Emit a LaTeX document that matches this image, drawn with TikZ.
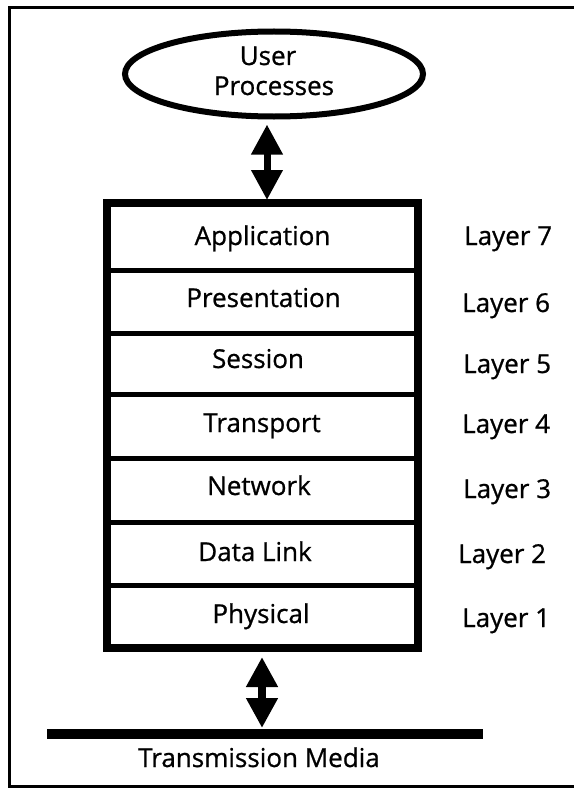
\documentclass[tikz,border=0pt]{standalone}
\usepackage{fontspec}
\setmainfont{Open Sans}[FakeBold=0.8]
\usetikzlibrary{shapes.geometric,arrows.meta}
\begin{document}
\begin{tikzpicture}[x=1bp,y=-1bp,
  txt/.style={font=\fontsize{26bp}{30bp}\selectfont, inner sep=0pt, anchor=base},
  laybox/.style={draw, line width=5bp, minimum width=311bp, inner sep=0pt, outer sep=0pt},
  dblarrow/.style={line width=#1, {Triangle[length=30bp,width=30bp]}-{Triangle[length=30bp,width=30bp]}},
]
\useasboundingbox (0,0) rectangle (574,789);
% frame
\draw[line width=3bp] (590,8) -- (9,8) -- (9,786.5) -- (590,786.5);
% user processes
\node[ellipse, draw, line width=6bp, minimum width=298bp, minimum height=85bp, inner sep=0pt] (user) at (274,74) {};
\node[txt] (tuser) at (268,65) {User};
\node[txt] (tproc) at (274,95) {Processes};
% layers
\node[laybox, minimum height=67bp] (l7) at (262.5,236.5) {};
\node[laybox, minimum height=63bp] (l6) at (262.5,301.5) {};
\node[laybox, minimum height=61bp] (l5) at (262.5,363.5) {};
\node[laybox, minimum height=64bp] (l4) at (262.5,426) {};
\node[laybox, minimum height=64bp] (l3) at (262.5,490) {};
\node[laybox, minimum height=63bp] (l2) at (262.5,553.5) {};
\node[laybox, minimum height=63bp] (l1) at (262.5,616.5) {};
\draw[line width=8bp] (l7.north west) rectangle (l1.south east);
\node[txt] (t7) at (262.5,245) {Application};
\node[txt] (t6) at (263.5,307) {Presentation};
\node[txt] (t5) at (258,368) {Session};
\node[txt] (t4) at (262,432) {Transport};
\node[txt] (t3) at (259,495) {Network};
\node[txt] (t2) at (255,561) {Data Link};
\node[txt] (t1) at (261,623) {Physical};
\node[txt, anchor=base west] (n7) at (464,245) {Layer 7};
\node[txt, anchor=base west] (n6) at (462,312) {Layer 6};
\node[txt, anchor=base west] (n5) at (463,373) {Layer 5};
\node[txt, anchor=base west] (n4) at (462,433) {Layer 4};
\node[txt, anchor=base west] (n3) at (463,498) {Layer 3};
\node[txt, anchor=base west] (n2) at (458,563) {Layer 2};
\node[txt, anchor=base west] (n1) at (462,627) {Layer 1};
% transmission media
\node[fill, minimum width=436bp, minimum height=10bp, inner sep=0pt, outer sep=0pt] (media) at (265,734) {};
\node[txt] (tmedia) at (259,767) {Transmission Media};
% arrows
\coordinate (ux) at (267,0);
\coordinate (lx) at (262,0);
\draw[dblarrow=7bp, shorten <=5bp, shorten >=3bp] (ux |- user.south) -- (ux |- l7.north);
\draw[dblarrow=8bp, shorten <=9bp, shorten >=1bp] (lx |- l1.south) -- (lx |- media.north);
\end{tikzpicture}
\end{document}
